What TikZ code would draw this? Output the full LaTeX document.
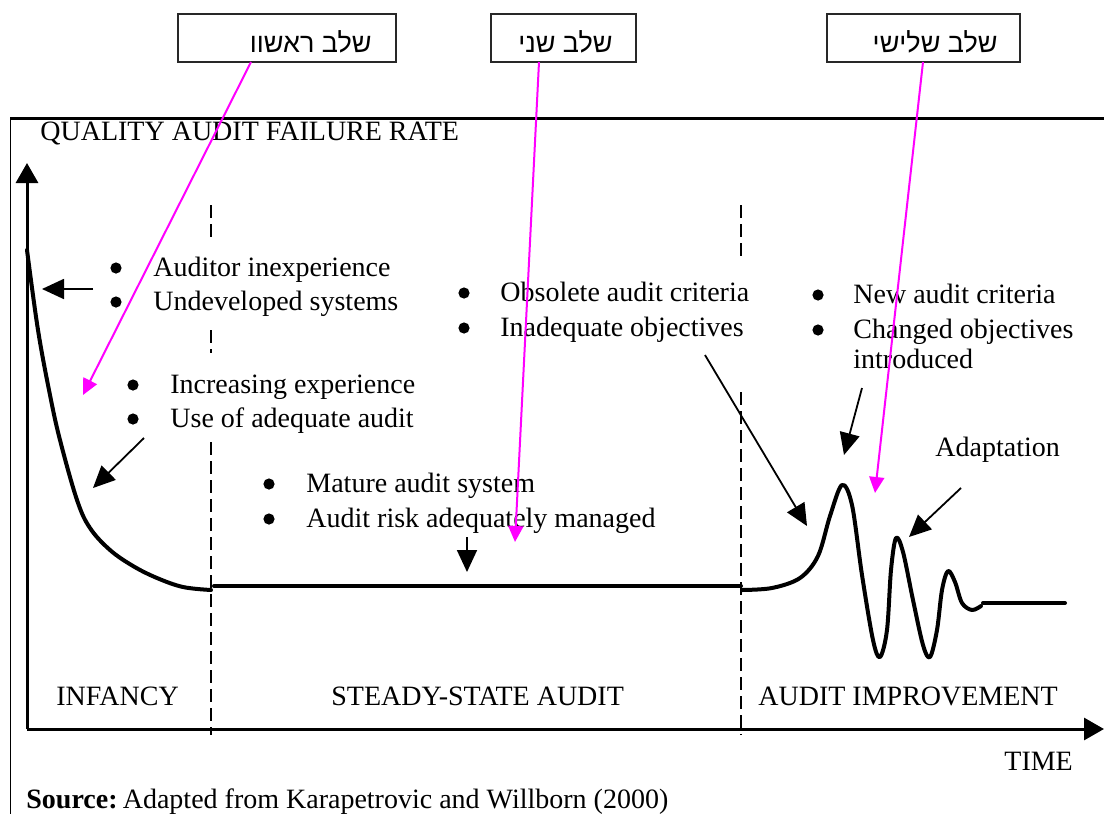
\documentclass[tikz,border=0pt]{standalone}
\usepackage{fontspec}
\setmainfont{Liberation Serif}
\newfontfamily\hebfont[Script=Hebrew]{Liberation Sans}
\TeXXeTstate=1
\usetikzlibrary{arrows.meta}
\definecolor{mag}{RGB}{255,0,255}
\definecolor{boxgray}{RGB}{40,40,40}
\begin{document}
\begin{tikzpicture}[x=0.5pt,y=-0.5pt,
  txt/.style={anchor=base west, inner sep=0pt, font=\fontsize{14}{17}\selectfont},
  bul/.style={circle, fill=black, inner sep=0pt, minimum size=5.6pt},
  heb/.style={anchor=base east, inner sep=0pt, font=\fontsize{13.5}{17}\hebfont},
  hbox/.style={draw=boxgray, line width=0.9pt, minimum height=24pt, inner sep=0pt},
  axis/.style={line width=1.5pt, -{Triangle[length=10pt,width=11pt]}},
  curve/.style={line width=2pt, line join=round, line cap=round},
  pointer/.style={line width=0.9pt, -{Triangle[length=11pt,width=10pt]}},
  magarrow/.style={draw=mag, line width=1pt, -{Triangle[length=8pt,width=7.5pt]}},
  divider/.style={line width=0.65pt, dash pattern=on 6.5pt off 3pt}
]
\useasboundingbox (0,0) rectangle (1104,814);

% frame lines
\draw[line width=1.5pt] (10,118) -- (1104,118);
\draw[line width=0.5pt] (10,118) -- (10,814);

% axes
\coordinate (origin) at (27,729);
\coordinate (ytop) at (27,163);
\coordinate (xend) at (1104,729);
\draw[axis] (origin) -- (ytop);
\draw[axis] (origin) -- (xend);

% dividers
\draw[divider] (211,205) -- (211,238);
\draw[divider] (211,330) -- (211,353);
\draw[divider] (211,442) -- (211,735);
\draw[divider] (741,205) -- (741,262);
\draw[divider] (741,392) -- (741,735);

% curves
\draw[curve] plot[smooth, tension=0.6] coordinates {(27,250) (38,330) (50,395) (60,440) (77,500) (90,528) (110,550) (133,566) (157,578) (183,587) (211,590)};
\draw[curve] (214,586) -- (741,586);
\draw[curve] plot[smooth, tension=0.55] coordinates {(742,590) (772,588) (800,578) (818,556) (830,516) (842,485) (852,505) (862,575) (873,640) (880,657) (887,630) (891,570) (896,538) (903,552) (913,600) (923,645) (930,657) (937,630) (942,590) (948,571) (955,582) (962,603) (972,610) (981,606)};
\draw[curve] (983,603) -- (1065,603);

% labels
\node[txt] (ylab) at (40,140) {QUALITY AUDIT FAILURE RATE};
\node[txt] (xlab) at (1004,770) {TIME};
\node[txt] (ph1) at (56,705) {INFANCY};
\node[txt] (ph2) at (331,705) {STEADY-STATE AUDIT};
\node[txt] (ph3) at (758,705) {AUDIT IMPROVEMENT};
\node[txt] (src) at (26,808) {\textbf{Source:}\hspace{2.6pt}Adapted from Karapetrovic and Willborn (2000)};

% bullet groups
\node[bul] (b1a) at (116,268) {};
\node[txt] (t1a) at (153,276) {Auditor inexperience};
\node[bul] (b1b) at (116,302) {};
\node[txt] (t1b) at (153,310) {Undeveloped systems};

\node[bul] (b2a) at (133,385) {};
\node[txt] (t2a) at (170,393) {Increasing experience};
\node[bul] (b2b) at (133,419) {};
\node[txt] (t2b) at (170,427) {Use of adequate audit};

\node[bul] (b3a) at (269,484) {};
\node[txt] (t3a) at (306,492) {Mature audit system};
\node[bul] (b3b) at (269,519) {};
\node[txt] (t3b) at (306,527) {Audit risk adequately managed};

\node[bul] (b4a) at (464,293) {};
\node[txt] (t4a) at (500,301) {Obsolete audit criteria};
\node[bul] (b4b) at (464,328) {};
\node[txt] (t4b) at (500,336) {Inadequate objectives};

\node[bul] (b5a) at (818,295) {};
\node[txt] (t5a) at (853,303) {New audit criteria};
\node[bul] (b5b) at (818,330) {};
\node[txt] (t5b) at (853,338) {Changed objectives};
\node[txt] (t5c) at (853,368) {introduced};

\node[txt] (adapt) at (935,456) {Adaptation};

% black pointers
\coordinate (p1s) at (93,289);  \coordinate (p1e) at (42,289);
\coordinate (p2s) at (144,438); \coordinate (p2e) at (93,488);
\coordinate (p3s) at (467,537); \coordinate (p3e) at (467,572);
\coordinate (p4s) at (705,355); \coordinate (p4e) at (807,526);
\coordinate (p5s) at (862,388); \coordinate (p5e) at (844,455);
\coordinate (p6s) at (961,488); \coordinate (p6e) at (909,537);
\draw[pointer] (p1s) -- (p1e);
\draw[pointer] (p2s) -- (p2e);
\draw[pointer] (p3s) -- (p3e);
\draw[pointer] (p4s) -- (p4e);
\draw[pointer] (p5s) -- (p5e);
\draw[pointer] (p6s) -- (p6e);

% Hebrew stage boxes
\node[hbox, minimum width=109pt] (box1) at (287,38) {};
\node[hbox, minimum width=72.5pt] (box2) at (563.5,38) {};
\node[hbox, minimum width=96.5pt] (box3) at (923.5,38) {};
\node[heb] (h1) at (372,52) {\beginR שלב ראשוו\endR};
\node[heb] (h2) at (613,52) {\beginR שלב שני\endR};
\node[heb] (h3) at (998,52) {\beginR שלב שלישי\endR};

% magenta arrows
\coordinate (m1s) at (251,62); \coordinate (m1e) at (83,395);
\coordinate (m2s) at (539,62); \coordinate (m2e) at (515,542);
\coordinate (m3s) at (923,62); \coordinate (m3e) at (875,493);
\draw[magarrow] (m1s) -- (m1e);
\draw[magarrow] (m2s) -- (m2e);
\draw[magarrow] (m3s) -- (m3e);
\end{tikzpicture}
\end{document}
